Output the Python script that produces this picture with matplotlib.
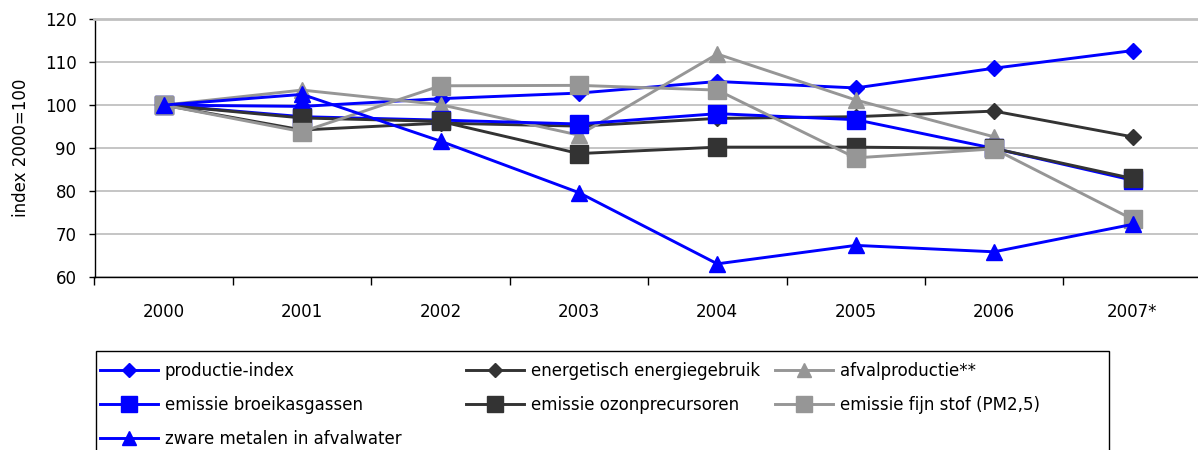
import numpy as np
import matplotlib
matplotlib.use("Agg")
import matplotlib.pyplot as plt
from matplotlib.patches import Rectangle
from matplotlib.ticker import FixedLocator, NullFormatter

plt.rcParams["font.family"] = ["DejaVu Sans"]

years = ["2000", "2001", "2002", "2003", "2004", "2005", "2006", "2007*"]

productie_index = [100, 99.7, 101.5, 102.8, 105.5, 104.0, 108.6, 112.7]
energetisch_energiegebruik = [100, 94.2, 95.8, 95.1, 96.9, 97.3, 98.6, 92.6]
afvalproductie = [100, 103.5, 100.1, 93.0, 111.9, 101.2, 92.6, np.nan]
emissie_broeikasgassen = [100, 97.3, 96.5, 95.6, 98.0, 96.6, 89.9, 82.5]
emissie_ozonprecursoren = [100, 97.0, 96.2, 88.7, 90.2, 90.2, 89.9, 82.9]
emissie_fijn_stof = [100, 93.8, 104.5, 104.6, 103.5, 87.7, 89.8, 73.4]
zware_metalen = [100, 102.5, 91.6, 79.6, 63.0, 67.3, 65.8, 72.2]

y_ticks = [60, 70, 80, 90, 100, 110, 120]

BLUE = "#0000FF"
DARK = "#333333"
GREY = "#969696"

series = [
    ("productie-index", productie_index, BLUE, "D", 8.5),
    ("energetisch energiegebruik", energetisch_energiegebruik, DARK, "D", 8.5),
    ("afvalproductie**", afvalproductie, GREY, "^", 11.5),
    ("emissie broeikasgassen", emissie_broeikasgassen, BLUE, "s", 12.8),
    ("emissie ozonprecursoren", emissie_ozonprecursoren, DARK, "s", 12.8),
    ("emissie fijn stof (PM2,5)", emissie_fijn_stof, GREY, "s", 12.8),
    ("zware metalen in afvalwater", zware_metalen, BLUE, "^", 11.5),
]

W, H = 1198, 450
fig = plt.figure(figsize=(W / 100, H / 100), dpi=100)
left_px, top_px, bottom_px, slot_px = 94.5, 19.3, 276.7, 138.4
ax = fig.add_axes([left_px / W, 1 - bottom_px / H,
                   8 * slot_px / W, (bottom_px - top_px) / H])

x = np.arange(len(years))
lines = {}
for i, (label, vals, color, marker, ms) in enumerate(series):
    ln, = ax.plot(x, vals, color=color, lw=2.1, marker=marker, ms=ms,
                  mec=color, mfc=color, label=label, zorder=3 + i,
                  clip_on=False)
    lines[label] = ln

ax.set_xlim(-0.5, len(years) - 0.5)
ax.set_ylim(60, 120)

# gridlines
ax.set_yticks(y_ticks)
ax.yaxis.grid(True, color="#c0c0c0", lw=1.3)
ax.set_axisbelow(True)

ax.spines["right"].set_visible(False)
ax.spines["top"].set_color("#c0c0c0")
ax.spines["top"].set_linewidth(2.0)
for side in ("left", "bottom"):
    ax.spines[side].set_color("black")
    ax.spines[side].set_linewidth(1.0)

ax.tick_params(axis="y", direction="out", length=4, width=1, pad=9,
               labelsize=12)
ax.set_xticks(x)
ax.set_xticklabels(years)
ax.tick_params(axis="x", which="major", length=0, pad=19, labelsize=12)
ax.xaxis.set_minor_locator(FixedLocator(np.arange(-0.5, len(years) + 0.5, 1)))
ax.xaxis.set_minor_formatter(NullFormatter())
ax.tick_params(axis="x", which="minor", direction="out", length=6, width=1)

fig.text(21 / W, 1 - 148 / H, "index 2000=100", rotation=90,
         ha="center", va="center", fontsize=12)

# legend box with three columns of entries
box_left, box_top, box_right = 96, 351, 1109
fig.patches.append(Rectangle((box_left / W, -0.05),
                             (box_right - box_left) / W,
                             0.05 + 1 - box_top / H,
                             transform=fig.transFigure, facecolor="white",
                             edgecolor="black", lw=1.0, zorder=1))
columns = [
    (100, ["productie-index", "emissie broeikasgassen",
           "zware metalen in afvalwater"]),
    (466, ["energetisch energiegebruik", "emissie ozonprecursoren"]),
    (775, ["afvalproductie**", "emissie fijn stof (PM2,5)"]),
]
for col_x, names in columns:
    leg = fig.legend([lines[k] for k in names], names, ncol=1,
                     loc="upper left",
                     bbox_to_anchor=(col_x / W, 1 - 362 / H),
                     frameon=False, fontsize=12, handlelength=3.5,
                     handletextpad=0.4, labelspacing=0.95,
                     borderpad=0.0, markerscale=0.85, borderaxespad=0)
    leg.set_zorder(2)

fig.savefig("out.png", dpi=100)
